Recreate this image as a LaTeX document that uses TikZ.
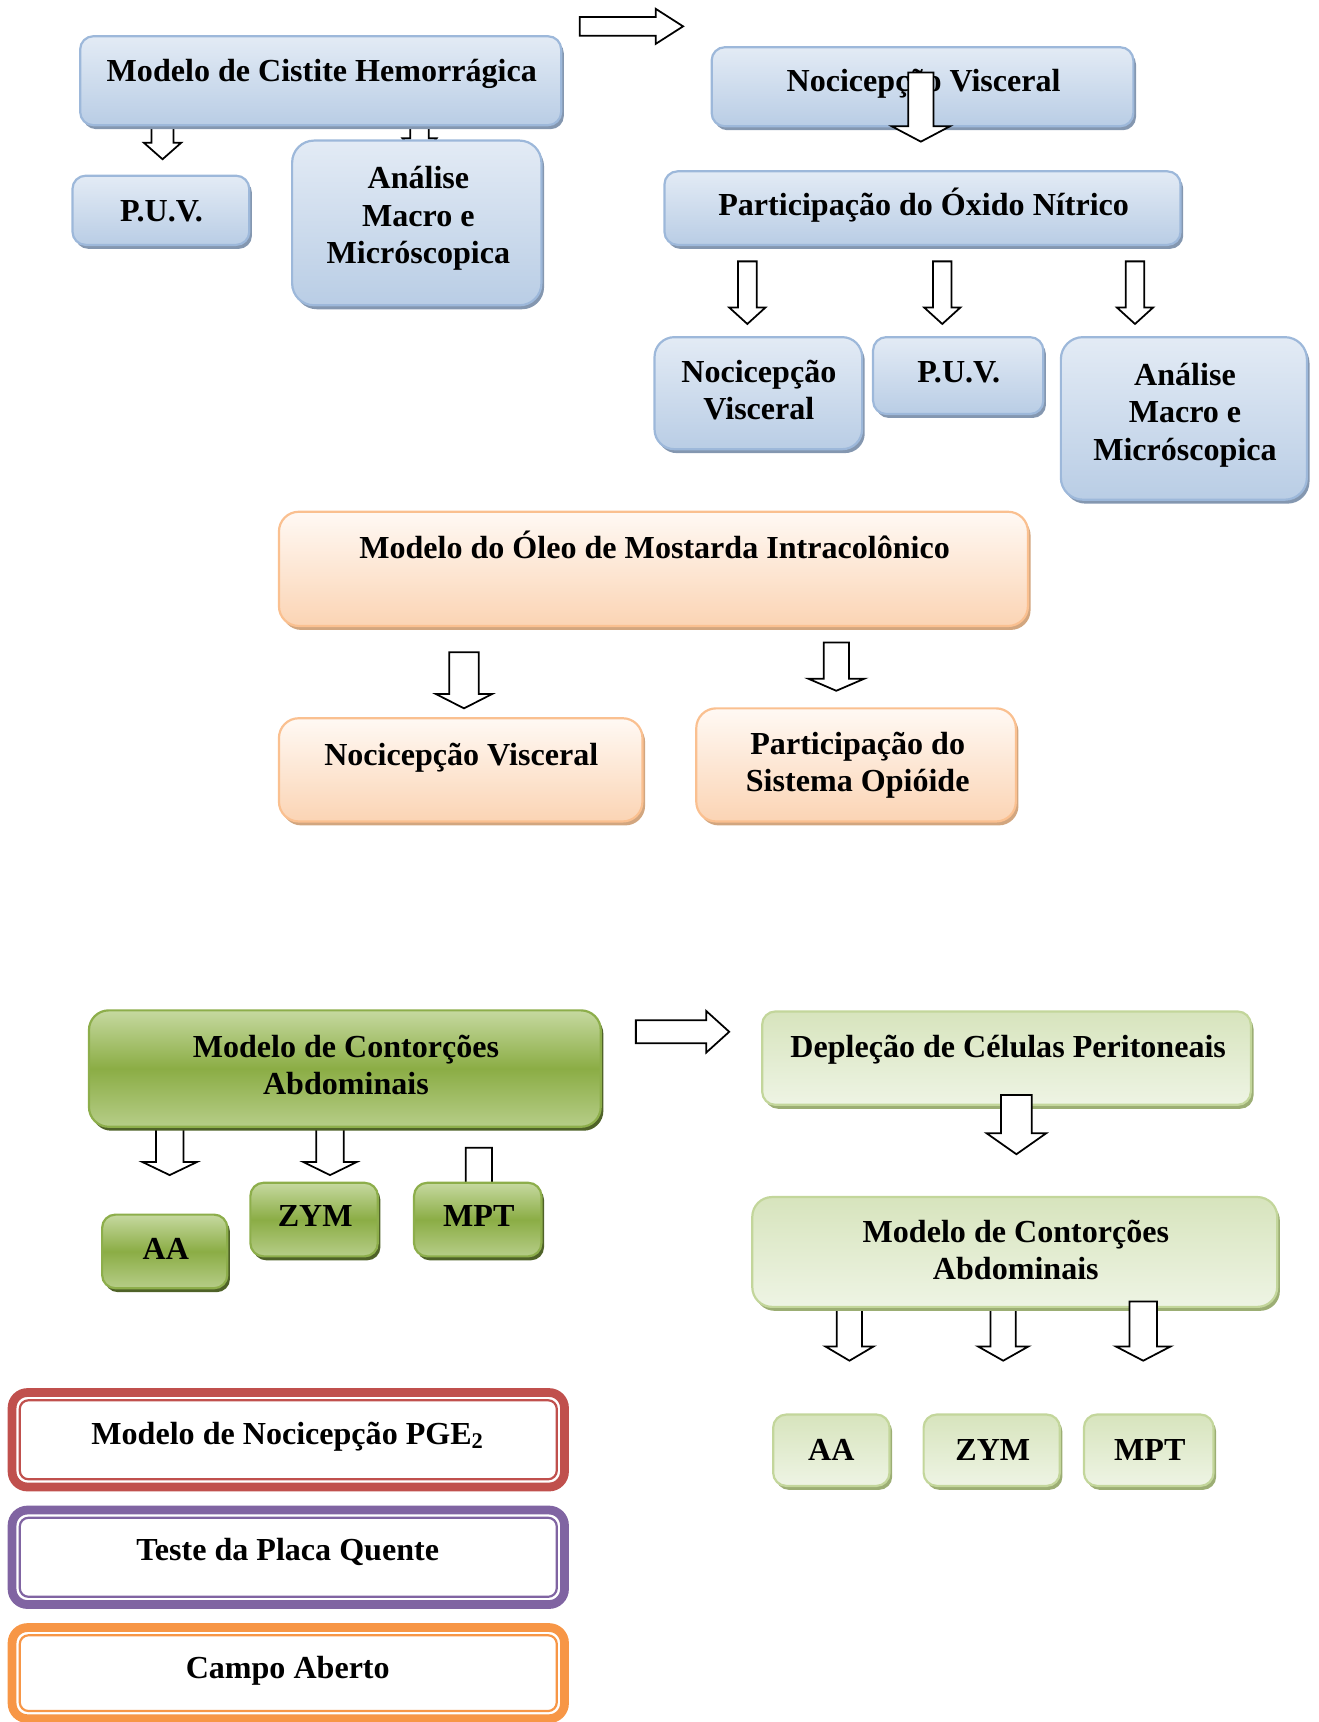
\documentclass[tikz,border=0pt]{standalone}
\usepackage{fontspec}
\setmainfont{Liberation Serif}
\usetikzlibrary{fit,shadows}

\definecolor{bluetop}{HTML}{E3EBF5}
\definecolor{bluebot}{HTML}{B9CDE5}
\definecolor{blueline}{HTML}{9DB8DA}
\definecolor{blueshadow}{HTML}{8497B0}
\definecolor{ortop}{HTML}{FFF9F4}
\definecolor{orbot}{HTML}{FBD4B4}
\definecolor{orline}{HTML}{FAC090}
\definecolor{orshadow}{HTML}{D2A67F}
\definecolor{dgtop}{HTML}{C6D9A0}
\definecolor{dgmid}{HTML}{8BAD45}
\definecolor{dgbot}{HTML}{B6CD88}
\definecolor{dgline}{HTML}{8DAE4B}
\definecolor{dgshadow}{HTML}{4F6228}
\definecolor{lgtop}{HTML}{D7E4BD}
\definecolor{lgbot}{HTML}{EEF4E4}
\definecolor{lgline}{HTML}{C3D69B}
\definecolor{lgshadow}{HTML}{9CAE74}
\definecolor{redb}{HTML}{C0504D}
\definecolor{purb}{HTML}{8064A2}
\definecolor{orb}{HTML}{F79646}

\newcommand\tl[1]{\begin{tabular}[t]{@{}c@{}}#1\end{tabular}}
% down block arrow: cx, half shaft, half head, ytop, yhead, ytip
\newcommand\darr[6]{\draw[barrow] (#1-#2,#4) -- (#1-#2,#5) -- (#1-#3,#5) -- (#1,#6) -- (#1+#3,#5) -- (#1+#2,#5) -- (#1+#2,#4) -- cycle;}
% right block arrow: cy, half shaft, half head, xleft, xhead, xtip
\newcommand\rarr[6]{\draw[barrow] (#4,#1-#2) -- (#5,#1-#2) -- (#5,#1-#3) -- (#6,#1) -- (#5,#1+#3) -- (#5,#1+#2) -- (#4,#1+#2) -- cycle;}

\tikzset{
  boxbase/.style={inner sep=0pt, outer sep=0pt, rounded corners=6pt, line width=1pt},
  bluebox/.style={boxbase, draw=blueline, top color=bluetop, bottom color=bluebot,
    drop shadow={shadow xshift=1.2pt, shadow yshift=-1.8pt, fill=blueshadow, opacity=1}},
  orbox/.style={boxbase, draw=orline, top color=ortop, bottom color=orbot,
    drop shadow={shadow xshift=1.2pt, shadow yshift=-1.8pt, fill=orshadow, opacity=1}},
  dgbox/.style={boxbase, draw=dgline, top color=dgtop, bottom color=dgbot, middle color=dgmid,
    drop shadow={shadow xshift=1.2pt, shadow yshift=-1.8pt, fill=dgshadow, opacity=1}},
  lgbox/.style={boxbase, draw=lgline, top color=lgtop, bottom color=lgbot,
    drop shadow={shadow xshift=1.2pt, shadow yshift=-1.8pt, fill=lgshadow, opacity=1}},
  dbox/.style={draw=#1, fill=white, line width=4pt, rounded corners=7pt, inner sep=0pt, outer sep=0pt},
  dinner/.style={draw=#1, line width=1pt, rounded corners=4pt},
  barrow/.style={draw=black, fill=white, line width=0.8pt, line join=miter},
  txt/.style={font=\fontsize{14.6}{17}\selectfont\bfseries, inner sep=0pt, anchor=base},
}

\begin{document}
\begin{tikzpicture}[x=0.5pt, y=-0.5pt]
\useasboundingbox (0,0) rectangle (1201,1568);

% ---------- Cistite ----------
\darr{148}{10}{17}{105}{130}{145}
\darr{382}{8.5}{15.5}{105}{126}{145}
\node[bluebox, fit={(73,33) (511,114)}] (cist) {};
\node[txt] (cistT) at (293,74) {Modelo de Cistite Hemorrágica};
\node[bluebox, fit={(66,160) (227,223)}] (puvA) {};
\node[txt] (puvAT) at (147,202) {P.U.V.};
\node[bluebox, rounded corners=10pt, fit={(266,128) (493,278)}] (analA) {};
\node[txt] (analAT) at (381,172) {\tl{\smash{Análise}\\\smash{Macro e}\\\smash{Micróscopica}}};

\rarr{24}{8.5}{16}{528}{597}{622}

\node[bluebox, fit={(648,43) (1032,115)}] (nocA) {};
\node[txt] (nocAT) at (841,83) {Nocicepção Visceral};
\darr{838.5}{11.5}{26.5}{66}{115}{129}

\node[bluebox, fit={(605,156) (1075,223)}] (oxid) {};
\node[txt] (oxidT) at (841,196) {Participação do Óxido Nítrico};
\darr{680.5}{8.5}{16.5}{238}{280}{295}
\darr{858}{8.5}{16.5}{238}{280}{295}
\darr{1033.5}{8.5}{16.5}{238}{280}{295}

\node[bluebox, rounded corners=9pt, fit={(596,307) (785,409)}] (nocB) {};
\node[txt] (nocBT) at (691,348) {\tl{\smash{Nocicepção}\\\smash{Visceral}}};
\node[bluebox, fit={(795,307) (950,377)}] (puvB) {};
\node[txt] (puvBT) at (873,348) {P.U.V.};
\node[bluebox, rounded corners=10pt, fit={(966,307) (1190,455)}] (analB) {};
\node[txt] (analBT) at (1079,351) {\tl{\smash{Análise}\\\smash{Macro e}\\\smash{Micróscopica}}};

% ---------- Oleo ----------
\node[orbox, rounded corners=9pt, fit={(254,466) (936,570)}] (oleo) {};
\node[txt] (oleoT) at (596,509) {Modelo do Óleo de Mostarda Intracolônico};
\darr{422.5}{13.5}{25.5}{594}{632}{645}
\darr{761.5}{11.5}{25.5}{585}{618}{629}
\node[orbox, rounded corners=9pt, fit={(254,654) (585,748)}] (nocC) {};
\node[txt] (nocCT) at (420,697) {Nocicepção Visceral};
\node[orbox, rounded corners=9pt, fit={(634,645) (925,748)}] (opio) {};
\node[txt] (opioT) at (781,687) {\tl{\smash{Participação do}\\\smash{Sistema Opióide}}};

% ---------- Contorcoes (dark) ----------
\darr{154.5}{12.5}{25}{1015}{1058}{1070}
\darr{300.5}{12.5}{24.5}{1015}{1058}{1070}
\darr{436}{12}{24}{1045}{1095}{1105}
\node[dgbox, rounded corners=9pt, fit={(81,920) (547,1026)}] (contA) {};
\node[txt] (contAT) at (315,963) {\tl{\smash{Modelo de Contorções}\\\smash{Abdominais}}};
\node[dgbox, fit={(93,1106) (207,1173)}] (aaA) {};
\node[txt] (aaAT) at (151,1147) {AA};
\node[dgbox, fit={(228,1077) (344,1144)}] (zymA) {};
\node[txt] (zymAT) at (287,1117) {ZYM};
\node[dgbox, fit={(377,1077) (493,1144)}] (mptA) {};
\node[txt] (mptAT) at (436,1117) {MPT};

\rarr{939.5}{10.5}{19}{579}{643}{664}

% ---------- Deplecao (light) ----------
\node[lgbox, fit={(694,921) (1139,1006)}] (depl) {};
\node[txt] (deplT) at (918,963) {Depleção de Células Peritoneais};
\darr{925.5}{14}{27}{997}{1032}{1051}
\darr{773.5}{11.5}{22}{1180}{1226}{1239}
\darr{913.5}{11.5}{23}{1180}{1226}{1239}
\node[lgbox, rounded corners=9pt, fit={(685,1090) (1163,1190)}] (contB) {};
\node[txt] (contBT) at (925,1131) {\tl{\smash{Modelo de Contorções}\\\smash{Abdominais}}};
\darr{1041}{12.5}{25}{1185}{1226}{1239}
\node[lgbox, fit={(704,1288) (810,1353)}] (aaB) {};
\node[txt] (aaBT) at (757,1330) {AA};
\node[lgbox, fit={(841,1288) (965,1353)}] (zymB) {};
\node[txt] (zymBT) at (904,1330) {ZYM};
\node[lgbox, fit={(987,1288) (1105,1353)}] (mptB) {};
\node[txt] (mptBT) at (1047,1330) {MPT};

% ---------- Double border boxes ----------
\node[dbox=redb, fit={(11,1268) (514,1354)}] (pge) {};
\draw[dinner=redb] ([shift={(3.5pt,-3.5pt)}]pge.north west) rectangle ([shift={(-3.5pt,3.5pt)}]pge.south east);
\node[txt] (pgeT) at (262,1315) {Modelo de Nocicepção PGE\textsubscript{2}};

\node[dbox=purb, fit={(11,1375) (514,1461)}] (placa) {};
\draw[dinner=purb] ([shift={(3.5pt,-3.5pt)}]placa.north west) rectangle ([shift={(-3.5pt,3.5pt)}]placa.south east);
\node[txt] (placaT) at (262,1421) {Teste da Placa Quente};

\node[dbox=orb, fit={(11,1482) (514,1565)}] (campo) {};
\draw[dinner=orb] ([shift={(3.5pt,-3.5pt)}]campo.north west) rectangle ([shift={(-3.5pt,3.5pt)}]campo.south east);
\node[txt] (campoT) at (262,1528) {Campo Aberto};
\end{tikzpicture}
\end{document}
